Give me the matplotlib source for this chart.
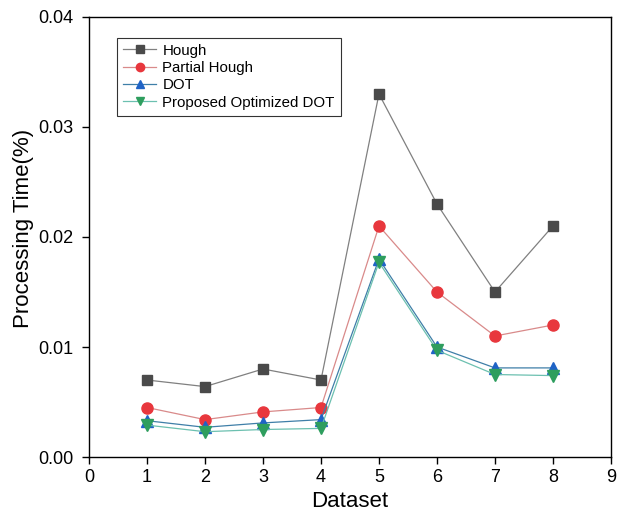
import numpy as np
import matplotlib
matplotlib.use("Agg")
import matplotlib.pyplot as plt

plt.rcParams['font.family'] = ['Liberation Sans', 'DejaVu Sans']

datasets = [1, 2, 3, 4, 5, 6, 7, 8]
hough = [0.0070, 0.0064, 0.0080, 0.0070, 0.0330, 0.0230, 0.0150, 0.0210]
partial_hough = [0.0045, 0.0034, 0.0041, 0.0045, 0.0210, 0.0150, 0.0110, 0.0120]
dot = [0.0033, 0.0027, 0.0031, 0.0034, 0.0180, 0.0100, 0.0081, 0.0081]
proposed = [0.0029, 0.0023, 0.0025, 0.0026, 0.0177, 0.0097, 0.0075, 0.0074]

fig = plt.figure(figsize=(6.19, 5.27), dpi=100)
ax = fig.add_axes([0.1438, 0.1328, 0.8432, 0.835])

ax.plot(datasets, hough, color="#808080", lw=0.9, marker="s", ms=7,
        mfc="#4a4a4a", mec="#4a4a4a", label="Hough")
ax.plot(datasets, partial_hough, color="#d98a8a", lw=0.9, marker="o", ms=8,
        mfc="#e8373d", mec="#e8373d", label="Partial Hough")
ax.plot(datasets, dot, color="#3f7fa8", lw=0.9, marker="^", ms=8,
        mfc="#1f63c6", mec="#1f63c6", label="DOT")
ax.plot(datasets, proposed, color="#6cc0b0", lw=0.9, marker="v", ms=8,
        mfc="#2e9e5e", mec="#2e9e5e", label="Proposed Optimized DOT")

ax.set_xlim(0, 9)
ax.set_ylim(0, 0.04)
ax.set_xticks(range(0, 10))
ax.set_yticks([0.0, 0.01, 0.02, 0.03, 0.04])
ax.set_yticklabels(["0.00", "0.01", "0.02", "0.03", "0.04"])
ax.tick_params(direction="out", length=5, width=1, labelsize=13, colors="black")
ax.tick_params(axis="y", pad=6)
for s in ax.spines.values():
    s.set_linewidth(1)
ax.set_xlabel("Dataset", fontsize=16)
ax.set_ylabel("Processing Time(%)", fontsize=16)
ax.yaxis.set_label_coords(-0.105, 0.52)

leg = ax.legend(loc="upper left", bbox_to_anchor=(0.04, 0.97), fontsize=10.8,
                frameon=True, fancybox=False, edgecolor="black", handlelength=2.2,
                borderpad=0.4, labelspacing=0.22, handletextpad=0.4,
                markerscale=0.75)
leg.get_frame().set_linewidth(0.8)

plt.savefig("out.png", dpi=100)
